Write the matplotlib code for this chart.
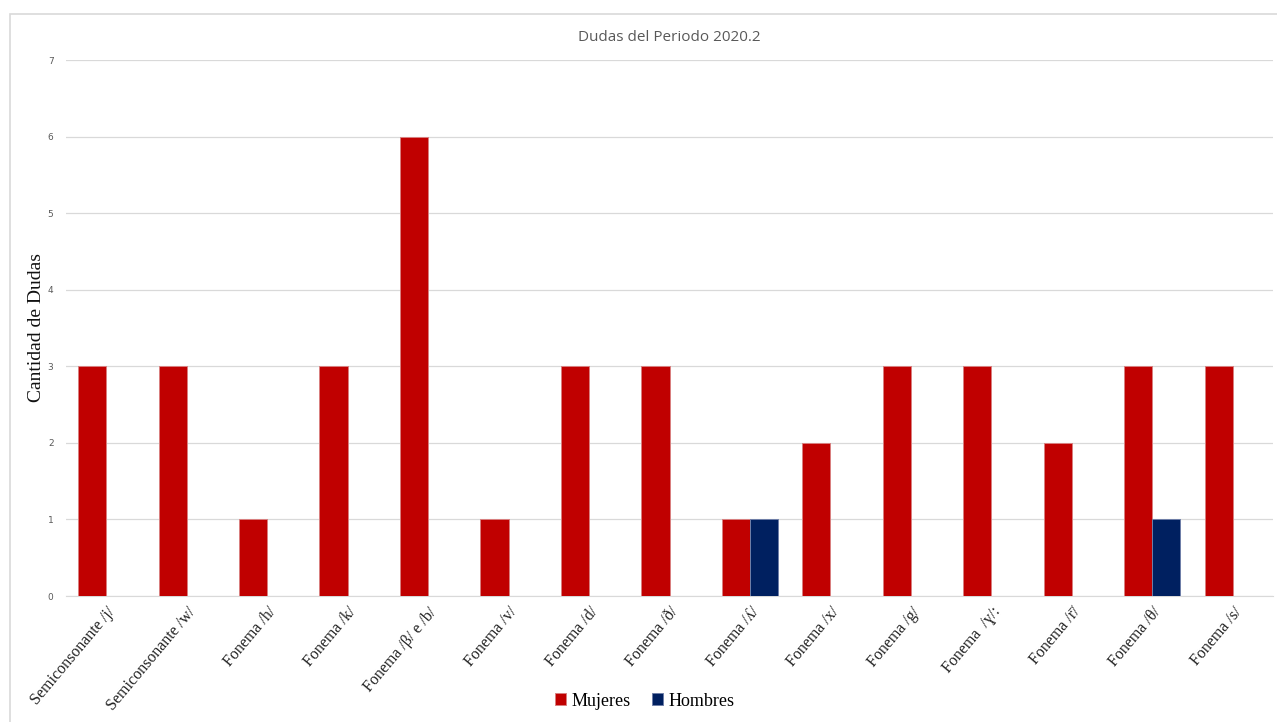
import matplotlib
matplotlib.use("Agg")
import matplotlib.pyplot as plt
import numpy as np
from matplotlib.patches import Rectangle

categorias = ["Semiconsonante /j/", "Semiconsonante /w/", "Fonema /h/", "Fonema /k/",
              "Fonema /β/ e /b/", "Fonema /v/", "Fonema /d/", "Fonema /ð/",
              "Fonema /ʎ/", "Fonema /x/", "Fonema /g/", "Fonema  /ɣ/:",
              "Fonema /r̄/", "Fonema /θ/", "Fonema /s/"]
mujeres = [3, 3, 1, 3, 6, 1, 3, 3, 1, 2, 3, 3, 2, 3, 3]
hombres = [0, 0, 0, 0, 0, 0, 0, 0, 1, 0, 0, 0, 0, 1, 0]

ROJO = "#C00000"
AZUL = "#002060"
SERIF = ["Liberation Serif", "DejaVu Serif"]

fig = plt.figure(figsize=(12.77, 7.22), dpi=100)
# marco exterior gris claro
fig.patches.append(Rectangle((10 / 1277, -0.01), 1.1, 1 - 14 / 722 + 0.01,
                             transform=fig.transFigure, fill=False,
                             edgecolor="#d9d9d9", linewidth=1.2))

ax = fig.add_axes([66 / 1277, 1 - 596 / 722, (1273 - 66) / 1277, (596 - 60) / 722])
x = np.arange(len(categorias))
w = 0.35
ax.bar(x - w / 2, mujeres, w, color=ROJO, edgecolor="#d98080", linewidth=0.7,
       label="Mujeres", zorder=3)
ax.bar(x + w / 2, hombres, w, color=AZUL, edgecolor="#6f7fa8", linewidth=0.7,
       label="Hombres", zorder=3)

ax.set_xlim(-0.5, len(categorias) - 0.5)
ax.set_ylim(0, 7)
ax.set_yticks(range(8))
ax.tick_params(axis="y", length=0, labelsize=6.5, labelcolor="#595959", pad=9)
ax.tick_params(axis="x", length=0, pad=6)
ax.set_xticks(x)
ax.set_xticklabels(categorias, rotation=50, ha="right", rotation_mode="anchor",
                   fontsize=11.5, family=SERIF, color="#222222")
ax.grid(axis="y", color="#d9d9d9", linewidth=0.9, zorder=0)
for s in ["top", "right", "left"]:
    ax.spines[s].set_visible(False)
ax.spines["bottom"].set_color("#d9d9d9")

ax.set_ylabel("Cantidad de Dudas", fontsize=14, family=SERIF, color="#111111", labelpad=2)
ax.set_title("Dudas del Periodo 2020.2", fontsize=11, color="#595959",
             family=["Open Sans", "DejaVu Sans"], pad=14)

fig.legend(loc="center", bbox_to_anchor=(645 / 1277, 1 - 701 / 722), ncol=2,
           frameon=False, prop={"family": SERIF, "size": 13},
           handlelength=0.6, handleheight=0.6, handletextpad=0.3, columnspacing=1.2)

fig.savefig("out.png", dpi=100)
